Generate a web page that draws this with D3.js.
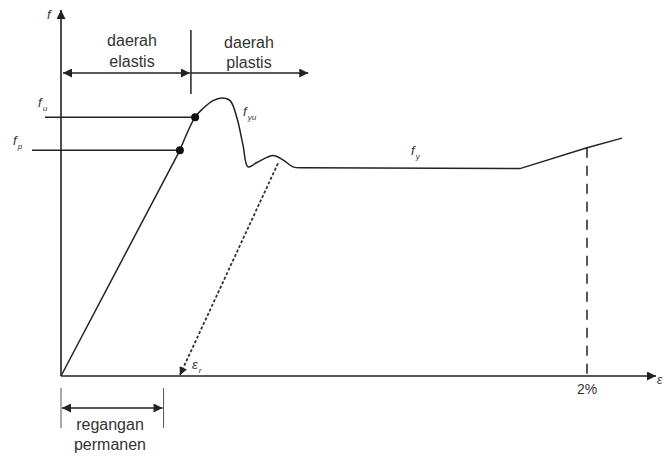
<!DOCTYPE html>
<html>
<head>
<meta charset="utf-8">
<script src="https://cdn.jsdelivr.net/npm/d3@7"></script>
<style>
  body { margin: 0; background: #fff; }
  text { font-family: "Liberation Sans", Arial, sans-serif; fill: #333; }
  .sym { font-style: italic; }
</style>
</head>
<body>
<div id="chart"></div>
<script>
// strain in %, stress in MPa
let elasticStrain = [0, 0.452];
let elasticStress = [0, 259];

let peakStrain = [0.452, 0.51, 0.54, 0.578, 0.612, 0.643, 0.669, 0.692, 0.711, 0.745, 0.806, 0.844, 0.882, 0.92];
let peakStress = [259, 297, 307, 316, 319, 316, 296, 265, 240, 245, 253, 248, 240, 239];

let hardenStrain = [0.92, 1.745, 2.0, 2.133];
let hardenStress = [239, 238, 262, 273];

let fpPoint = [0.452, 259];
let fuPoint = [0.51, 297];
let unloadStrain = [0.825, 0.452];
let unloadStress = [244, 1];
let permStrain = [0, 0.39];
let elasticEnd = 0.494, plasticEnd = 0.94;
let tickStrain = 2.0, tickLabel = "2%";

let svgWidth = 665, svgHeight = 457;

let svg = d3.select("#chart")
  .append("svg")
  .attr("width", svgWidth)
  .attr("height", svgHeight);

const x = d3.scaleLinear().domain([0, 2]).range([61, 587]);
const y = d3.scaleLinear().domain([0, 420]).range([376, 10]);

let ink = "#222";

let defs = svg.append("defs");
function marker(id, w, h) {
  defs.append("marker")
    .attr("id", id)
    .attr("viewBox", "0 0 10 10")
    .attr("refX", 10).attr("refY", 5)
    .attr("markerWidth", w).attr("markerHeight", h)
    .attr("markerUnits", "userSpaceOnUse")
    .attr("orient", "auto-start-reverse")
    .append("path")
    .attr("d", "M0,0 L10,5 L0,10 Z")
    .attr("fill", ink);
}
marker("arr", 12, 9);
marker("arrSmall", 10, 8);

// axes
svg.append("line")
  .attr("x1", x(0)).attr("y1", y(0))
  .attr("x2", x(0)).attr("y2", 10)
  .attr("stroke", ink).attr("stroke-width", 1.6)
  .attr("marker-end", "url(#arr)");
svg.append("line")
  .attr("x1", x(0)).attr("y1", y(0))
  .attr("x2", 656).attr("y2", y(0))
  .attr("stroke", ink).attr("stroke-width", 1.6)
  .attr("marker-end", "url(#arr)");

svg.append("text").attr("class", "sym")
  .attr("x", 47).attr("y", 19).attr("font-size", 13).text("f");
svg.append("text").attr("class", "sym")
  .attr("x", 657).attr("y", 384).attr("font-size", 12).text("ε");

// curve
let lineGen = d3.line().x(d => x(d[0])).y(d => y(d[1]));
let curveGen = d3.line().x(d => x(d[0])).y(d => y(d[1])).curve(d3.curveCatmullRom.alpha(0.5));

svg.append("path")
  .attr("d", lineGen(d3.zip(elasticStrain, elasticStress)))
  .attr("fill", "none").attr("stroke", ink).attr("stroke-width", 1.5);
svg.append("path")
  .attr("d", curveGen(d3.zip(peakStrain, peakStress)))
  .attr("fill", "none").attr("stroke", ink).attr("stroke-width", 1.5);
svg.append("path")
  .attr("d", lineGen(d3.zip(hardenStrain, hardenStress)))
  .attr("fill", "none").attr("stroke", ink).attr("stroke-width", 1.5);

// fu / fp reference lines and dots
svg.append("line")
  .attr("x1", x(0) - 16).attr("y1", y(fuPoint[1]))
  .attr("x2", x(fuPoint[0])).attr("y2", y(fuPoint[1]))
  .attr("stroke", ink).attr("stroke-width", 1.4);
svg.append("line")
  .attr("x1", x(0) - 29).attr("y1", y(fpPoint[1]))
  .attr("x2", x(fpPoint[0])).attr("y2", y(fpPoint[1]))
  .attr("stroke", ink).attr("stroke-width", 1.4);
svg.selectAll("circle.pt")
  .data([fpPoint, fuPoint])
  .enter().append("circle")
  .attr("cx", d => x(d[0])).attr("cy", d => y(d[1]))
  .attr("r", 4).attr("fill", "#111");

// unloading line
svg.append("line")
  .attr("x1", x(unloadStrain[0])).attr("y1", y(unloadStress[0]))
  .attr("x2", x(unloadStrain[1])).attr("y2", y(unloadStress[1]))
  .attr("stroke", "#333").attr("stroke-width", 1.8)
  .attr("stroke-dasharray", "3,2")
  .attr("marker-end", "url(#arrSmall)");

// 2% dashed line
let hardenScale = d3.scaleLinear().domain(hardenStrain.slice(1, 3)).range(hardenStress.slice(1, 3));
svg.append("line")
  .attr("x1", x(tickStrain)).attr("y1", y(hardenScale(tickStrain)))
  .attr("x2", x(tickStrain)).attr("y2", y(0))
  .attr("stroke", ink).attr("stroke-width", 1.5)
  .attr("stroke-dasharray", "10,8");
svg.append("text")
  .attr("x", x(tickStrain)).attr("y", 394)
  .attr("text-anchor", "middle").attr("font-size", 14)
  .text(tickLabel);

// region annotation
svg.append("line")
  .attr("x1", x(elasticEnd)).attr("y1", 30)
  .attr("x2", x(elasticEnd)).attr("y2", 94)
  .attr("stroke", ink).attr("stroke-width", 1.5);
svg.append("line")
  .attr("x1", x(0) + 2).attr("y1", 73)
  .attr("x2", x(elasticEnd) - 1).attr("y2", 73)
  .attr("stroke", ink).attr("stroke-width", 1.4)
  .attr("marker-start", "url(#arr)").attr("marker-end", "url(#arr)");
svg.append("line")
  .attr("x1", x(elasticEnd)).attr("y1", 73)
  .attr("x2", x(plasticEnd)).attr("y2", 73)
  .attr("stroke", ink).attr("stroke-width", 1.4)
  .attr("marker-end", "url(#arr)");

let regionText = [
  {t: "daerah", cx: 132, cy: 46},
  {t: "elastis", cx: 132, cy: 67},
  {t: "daerah", cx: 249, cy: 48},
  {t: "plastis", cx: 249, cy: 68}
];
svg.selectAll("text.reg")
  .data(regionText)
  .enter().append("text")
  .attr("x", d => d.cx).attr("y", d => d.cy)
  .attr("text-anchor", "middle").attr("font-size", 16)
  .text(d => d.t);

// permanent strain bracket
svg.selectAll("line.tick")
  .data(permStrain)
  .enter().append("line")
  .attr("x1", d => x(d)).attr("x2", d => x(d))
  .attr("y1", 388).attr("y2", 428)
  .attr("stroke", "#555").attr("stroke-width", 1);
svg.append("line")
  .attr("x1", x(permStrain[0]) + 1).attr("y1", 408)
  .attr("x2", x(permStrain[1]) - 1).attr("y2", 408)
  .attr("stroke", ink).attr("stroke-width", 1.4)
  .attr("marker-start", "url(#arr)").attr("marker-end", "url(#arr)");
svg.append("text")
  .attr("x", 110).attr("y", 430)
  .attr("text-anchor", "middle").attr("font-size", 16)
  .text("regangan");
svg.append("text")
  .attr("x", 110).attr("y", 450)
  .attr("text-anchor", "middle").attr("font-size", 16)
  .text("permanen");

// symbol labels
let symLabels = [
  {base: "f", sub: "u", px: 38, py: 107},
  {base: "f", sub: "p", px: 13, py: 145},
  {base: "f", sub: "yu", px: 243, py: 116},
  {base: "f", sub: "y", px: 411, py: 155},
  {base: "ε", sub: "r", px: 192, py: 369}
];
symLabels.forEach(function(d) {
  let t = svg.append("text").attr("class", "sym")
    .attr("x", d.px).attr("y", d.py).attr("font-size", 13);
  t.append("tspan").text(d.base);
  t.append("tspan").attr("font-size", 8).attr("dx", 1).attr("dy", 4).text(d.sub);
});
</script>
</body>
</html>
